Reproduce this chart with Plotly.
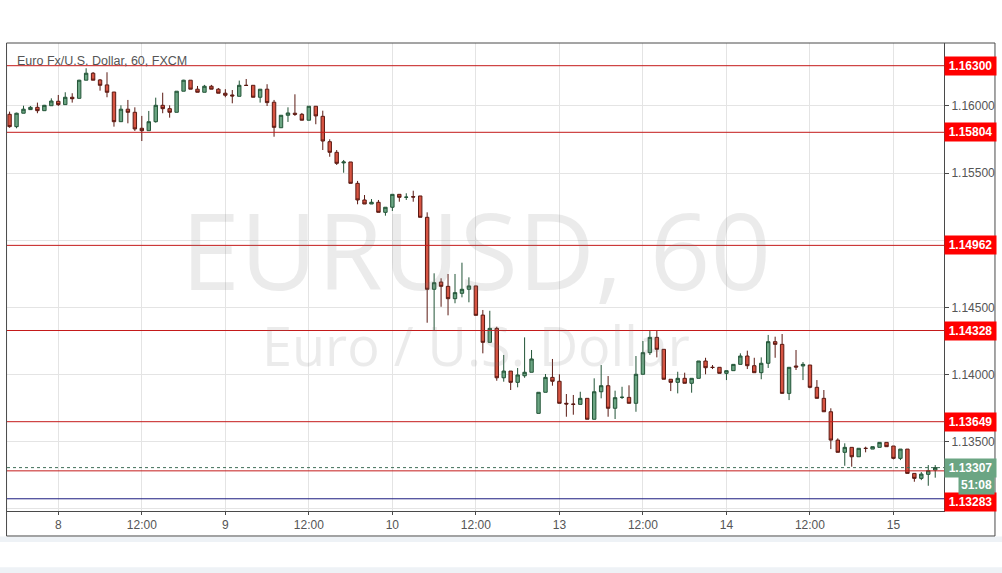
import plotly.graph_objects as go

# ---------------- data (hourly bars, EUR/USD, FXCM) ----------------
# bar position: 0 = day 8 00:00 ; weekend gap removed (hourly slots)
bar_pos = list(range(-7, 127))

opens = [1.15938, 1.15846, 1.15946, 1.15973, 1.15990, 1.15965, 1.16002, 1.16035, 1.16010, 1.16065,
         1.16057, 1.16192, 1.16244, 1.16194, 1.16157, 1.16104, 1.15883, 1.15976, 1.15953, 1.15834,
         1.15816, 1.15883, 1.16005, 1.15980, 1.15953, 1.16110, 1.16192, 1.16125, 1.16102, 1.16147,
         1.16125, 1.16095, 1.16082, 1.16072, 1.16154, 1.16154, 1.16065, 1.16125, 1.16028, 1.15838,
         1.15931, 1.15946, 1.15938, 1.15894, 1.15998, 1.15923, 1.15734, 1.15655, 1.15576, 1.15583,
         1.15424, 1.15300, 1.15270, 1.15283, 1.15208, 1.15246, 1.15342, 1.15320, 1.15325, 1.15330,
         1.15171, 1.14635, 1.14689, 1.14657, 1.14565, 1.14605, 1.14635, 1.14660, 1.14443, 1.14240,
         1.14344, 1.13976, 1.14026, 1.13942, 1.13991, 1.14017, 1.13711, 1.13868, 1.13979, 1.13950,
         1.13786, 1.13781, 1.13778, 1.13823, 1.13667, 1.13872, 1.13917, 1.13749, 1.13830, 1.13830,
         1.13786, 1.14002, 1.14163, 1.14277, 1.14188, 1.13965, 1.13942, 1.13972, 1.13935, 1.13972,
         1.14101, 1.14054, 1.14054, 1.14009, 1.14029, 1.14076, 1.14138, 1.14066, 1.14014, 1.14084,
         1.14245, 1.14225, 1.13860, 1.14064, 1.14064, 1.14071, 1.13905, 1.13823, 1.13723, 1.13512,
         1.13421, 1.13458, 1.13388, 1.13451, 1.13445, 1.13458, 1.13495, 1.13468, 1.13376, 1.13445,
         1.13264, 1.13227, 1.13257, 1.13289]

highs = [1.15958, 1.15950, 1.16002, 1.16000, 1.16025, 1.16008, 1.16057, 1.16082, 1.16102, 1.16095,
         1.16195, 1.16281, 1.16253, 1.16201, 1.16251, 1.16104, 1.16005, 1.16045, 1.15990, 1.15926,
         1.15963, 1.16062, 1.16099, 1.16005, 1.16110, 1.16195, 1.16192, 1.16149, 1.16157, 1.16157,
         1.16134, 1.16125, 1.16119, 1.16189, 1.16201, 1.16154, 1.16125, 1.16162, 1.16045, 1.15931,
         1.15990, 1.16087, 1.15948, 1.15998, 1.15998, 1.15965, 1.15752, 1.15672, 1.15598, 1.15583,
         1.15442, 1.15337, 1.15307, 1.15300, 1.15246, 1.15342, 1.15342, 1.15350, 1.15369, 1.15330,
         1.15208, 1.14754, 1.14717, 1.14749, 1.14749, 1.14833, 1.14724, 1.14660, 1.14481, 1.14475,
         1.14356, 1.14146, 1.14026, 1.14049, 1.14277, 1.14183, 1.13868, 1.14004, 1.14116, 1.14002,
         1.13855, 1.13848, 1.13872, 1.13823, 1.13972, 1.14071, 1.13989, 1.13880, 1.13909, 1.13920,
         1.14138, 1.14250, 1.14324, 1.14324, 1.14188, 1.13965, 1.14021, 1.14014, 1.13972, 1.14101,
         1.14125, 1.14071, 1.14054, 1.14029, 1.14076, 1.14158, 1.14178, 1.14125, 1.14128, 1.14295,
         1.14282, 1.14302, 1.14054, 1.14183, 1.14093, 1.14071, 1.13959, 1.13885, 1.13749, 1.13525,
         1.13488, 1.13458, 1.13451, 1.13463, 1.13463, 1.13495, 1.13495, 1.13468, 1.13445, 1.13445,
         1.13264, 1.13274, 1.13326, 1.13326]

lows = [1.15838, 1.15834, 1.15946, 1.15970, 1.15946, 1.15965, 1.16002, 1.16000, 1.16010, 1.16025,
        1.16057, 1.16192, 1.16192, 1.16114, 1.16065, 1.15846, 1.15883, 1.15871, 1.15814, 1.15739,
        1.15816, 1.15876, 1.15946, 1.15913, 1.15953, 1.16110, 1.16125, 1.16102, 1.16102, 1.16125,
        1.16095, 1.16065, 1.16020, 1.16072, 1.16150, 1.16065, 1.16025, 1.16000, 1.15771, 1.15836,
        1.15881, 1.15926, 1.15894, 1.15894, 1.15864, 1.15672, 1.15622, 1.15561, 1.15503, 1.15424,
        1.15268, 1.15270, 1.15270, 1.15208, 1.15183, 1.15218, 1.15287, 1.15300, 1.15287, 1.15171,
        1.14386, 1.14327, 1.14505, 1.14441, 1.14531, 1.14575, 1.14538, 1.14441, 1.14158, 1.14240,
        1.13954, 1.13947, 1.13885, 1.13905, 1.13976, 1.14017, 1.13711, 1.13868, 1.13917, 1.13786,
        1.13686, 1.13701, 1.13778, 1.13667, 1.13667, 1.13823, 1.13686, 1.13669, 1.13818, 1.13786,
        1.13723, 1.14002, 1.14146, 1.14128, 1.13965, 1.13877, 1.13860, 1.13935, 1.13865, 1.13972,
        1.14002, 1.14041, 1.14009, 1.13959, 1.14029, 1.14076, 1.14041, 1.14014, 1.13965, 1.14049,
        1.14125, 1.13860, 1.13810, 1.14034, 1.13959, 1.13898, 1.13823, 1.13723, 1.13445, 1.13421,
        1.13321, 1.13314, 1.13388, 1.13421, 1.13445, 1.13458, 1.13463, 1.13369, 1.13363, 1.13264,
        1.13202, 1.13214, 1.13172, 1.13232]

closes = [1.15846, 1.15946, 1.15976, 1.15990, 1.15965, 1.16005, 1.16037, 1.16010, 1.16065, 1.16054,
          1.16192, 1.16244, 1.16192, 1.16154, 1.16102, 1.15883, 1.15976, 1.15953, 1.15829, 1.15816,
          1.15883, 1.16005, 1.15980, 1.15953, 1.16110, 1.16192, 1.16125, 1.16102, 1.16147, 1.16125,
          1.16095, 1.16080, 1.16075, 1.16154, 1.16153, 1.16065, 1.16125, 1.16025, 1.15841, 1.15931,
          1.15948, 1.15938, 1.15894, 1.15998, 1.15926, 1.15739, 1.15655, 1.15573, 1.15583, 1.15424,
          1.15300, 1.15270, 1.15283, 1.15208, 1.15246, 1.15342, 1.15320, 1.15321, 1.15322, 1.15171,
          1.14635, 1.14684, 1.14657, 1.14565, 1.14610, 1.14635, 1.14660, 1.14441, 1.14240, 1.14344,
          1.13976, 1.14026, 1.13942, 1.13997, 1.14017, 1.14116, 1.13868, 1.13979, 1.13950, 1.13786,
          1.13781, 1.13778, 1.13823, 1.13667, 1.13872, 1.13917, 1.13749, 1.13828, 1.13831, 1.13786,
          1.14002, 1.14163, 1.14277, 1.14188, 1.13965, 1.13942, 1.13972, 1.13935, 1.13972, 1.14101,
          1.14051, 1.14053, 1.14009, 1.14029, 1.14076, 1.14138, 1.14066, 1.14014, 1.14084, 1.14245,
          1.14225, 1.13860, 1.14054, 1.14056, 1.14076, 1.13905, 1.13823, 1.13723, 1.13512, 1.13421,
          1.13458, 1.13388, 1.13451, 1.13450, 1.13463, 1.13495, 1.13463, 1.13376, 1.13445, 1.13264,
          1.13227, 1.13259, 1.13284, 1.13307]

x_tick_pos = [0, 12, 24, 36, 48, 60, 72, 84, 96, 108, 120]
x_tick_text = ["8", "12:00", "9", "12:00", "10", "12:00", "13", "12:00", "14", "12:00", "15"]

y_grid_vals = [1.130, 1.135, 1.140, 1.145, 1.150, 1.155, 1.160]
y_grid_text = ["", "1.13500", "1.14000", "1.14500", "", "1.15500", "1.16000"]

level_lines = [1.16300, 1.15804, 1.14962, 1.14328, 1.13649, 1.13283]
level_labels = ["1.16300", "1.15804", "1.14962", "1.14328", "1.13649", "1.13283"]
blue_line = 1.13075
last_price = 1.13307
countdown = "51:08"

title_text = "Euro Fx/U.S. Dollar, 60, FXCM"
wm_big = "EURUSD, 60"
wm_small = "Euro / U.S. Dollar"

# ---------------- figure ----------------
fig = go.Figure()
fig.add_trace(go.Candlestick(
    x=bar_pos, open=opens, high=highs, low=lows, close=closes,
    increasing=dict(fillcolor="#6ba583", line=dict(color="#225437", width=1)),
    decreasing=dict(fillcolor="#d75442", line=dict(color="#5b1a13", width=1)),
    whiskerwidth=0, hoverinfo="skip", showlegend=False,
))

shapes = []
for lv in level_lines:
    shapes.append(dict(type="line", xref="paper", yref="y", x0=0, x1=1, y0=lv, y1=lv,
                       line=dict(color="#c41a1a", width=1), layer="above"))
shapes.append(dict(type="line", xref="paper", yref="y", x0=0, x1=1, y0=blue_line, y1=blue_line,
                   line=dict(color="#1c1c80", width=1), layer="above"))
shapes.append(dict(type="line", xref="paper", yref="y", x0=0, x1=1, y0=last_price, y1=last_price,
                   line=dict(color="#3f6f58", width=1, dash="dot"), layer="above"))
# outer frame of the chart widget
shapes.append(dict(type="rect", xref="paper", yref="paper", x0=-0.0005, x1=1.0544, y0=-0.0534, y1=1.0,
                   line=dict(color="#4a4a4a", width=1), fillcolor="rgba(0,0,0,0)", layer="above"))
# light page bands
shapes.append(dict(type="rect", xref="paper", yref="paper", x0=-0.01, x1=1.07, y0=-0.066, y1=-0.0545,
                   line=dict(width=0), fillcolor="#eef2f6", layer="below"))
shapes.append(dict(type="rect", xref="paper", yref="paper", x0=-0.01, x1=1.07, y0=-0.135, y1=-0.12,
                   line=dict(width=0), fillcolor="#eef2f6", layer="below"))

annotations = []
annotations.append(dict(text=title_text, xref="paper", yref="paper", x=0.0085, y=0.962,
                        xanchor="left", yanchor="middle", showarrow=False,
                        font=dict(family="Liberation Sans, Arial", size=12.5, color="#555555")))
annotations.append(dict(text=wm_big, xref="paper", yref="paper", x=0.5, y=0.56,
                        xanchor="center", yanchor="middle", showarrow=False,
                        font=dict(family="Open Sans, Liberation Sans", size=106, color="rgba(120,120,120,0.15)")))
annotations.append(dict(text=wm_small, xref="paper", yref="paper", x=0.5, y=0.355,
                        xanchor="center", yanchor="middle", showarrow=False,
                        font=dict(family="Open Sans, Liberation Sans", size=54, color="rgba(120,120,120,0.15)")))

for lv, lab in zip(level_lines, level_labels):
    shift = -31 if lab == "1.13283" else 0
    annotations.append(dict(text="<b>" + lab + "</b>", xref="paper", yref="y", x=1.0, y=lv,
                            xanchor="left", yanchor="middle", yshift=shift, showarrow=False,
                            bgcolor="#ff0000", borderpad=2, width=47,
                            font=dict(family="Liberation Sans, Arial", size=12, color="white")))
annotations.append(dict(text="<b>%.5f</b>" % last_price, xref="paper", yref="y", x=1.0, y=last_price,
                        xanchor="left", yanchor="middle", showarrow=False,
                        bgcolor="#6ba583", borderpad=2, width=47,
                        font=dict(family="Liberation Sans, Arial", size=12, color="white")))
annotations.append(dict(text="<b>" + countdown + "</b>", xref="paper", yref="y", x=1.0545, y=last_price,
                        xanchor="right", yanchor="middle", yshift=-17, showarrow=False,
                        bgcolor="#6ba583", borderpad=2, width=31,
                        font=dict(family="Liberation Sans, Arial", size=12, color="white")))

fig.update_layout(
    width=1002, height=573,
    margin=dict(l=7, r=58, t=43, b=62),
    paper_bgcolor="white", plot_bgcolor="white",
    shapes=shapes, annotations=annotations,
    xaxis=dict(range=[-7.37, 127.26], rangeslider=dict(visible=False),
               tickvals=x_tick_pos, ticktext=x_tick_text,
               showgrid=True, gridcolor="#e4e4e4", gridwidth=1,
               showline=True, linecolor="#4a4a4a", linewidth=1,
               ticks="outside", ticklen=3, tickcolor="#4a4a4a",
               tickfont=dict(family="Liberation Sans, Arial", size=12, color="#555555"),
               zeroline=False, fixedrange=True),
    yaxis=dict(range=[1.12984, 1.16469], side="right",
               tickvals=y_grid_vals, ticktext=y_grid_text,
               showgrid=True, gridcolor="#e4e4e4", gridwidth=1,
               showline=True, linecolor="#4a4a4a", linewidth=1,
               ticks="outside", ticklen=4, tickcolor="#4a4a4a",
               tickfont=dict(family="Liberation Sans, Arial", size=12, color="#555555"),
               zeroline=False, fixedrange=True),
    font=dict(family="Liberation Sans, Arial"),
)

fig.write_html("out.html", config={"displayModeBar": False},
               post_script="document.body.style.margin='0';document.body.style.padding='0';")
